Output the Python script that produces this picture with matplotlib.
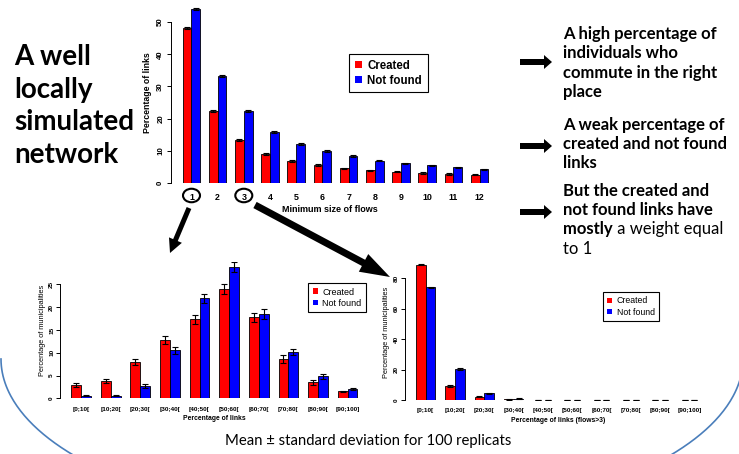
import matplotlib
matplotlib.use('Agg')
import matplotlib.pyplot as plt
from matplotlib.patches import Patch, FancyArrow, Ellipse
import numpy as np

W, H = 739, 454

# top chart: share of links by minimum flow size
flow_sizes = ['1', '2', '3', '4', '5', '6', '7', '8', '9', '10', '11', '12']
created_top = [48.0, 22.5, 13.4, 9.1, 6.8, 5.6, 4.6, 3.9, 3.5, 3.1, 2.8, 2.6]
created_top_sd = [0.3, 0.3, 0.3, 0.3, 0.2, 0.2, 0.2, 0.2, 0.2, 0.2, 0.2, 0.2]
notfound_top = [53.9, 33.3, 22.4, 15.7, 12.1, 10.0, 8.3, 6.9, 6.1, 5.5, 4.9, 4.2]
notfound_top_sd = [0.3, 0.3, 0.3, 0.3, 0.3, 0.3, 0.3, 0.2, 0.2, 0.2, 0.2, 0.2]

# bottom charts: share of municipalities by percentage of links
bins = ['[0;10[', '[10;20[', '[20;30[', '[30;40[', '[40;50[',
        '[50;60[', '[60;70[', '[70;80[', '[80;90[', '[90;100]']
created_all = [2.9, 3.8, 8.0, 12.8, 17.3, 23.9, 17.8, 8.6, 3.5, 1.5]
created_all_sd = [0.4, 0.5, 0.7, 0.8, 1.0, 1.1, 1.0, 0.8, 0.5, 0.2]
notfound_all = [0.6, 0.6, 2.7, 10.5, 21.9, 28.9, 18.5, 10.2, 4.8, 2.0]
notfound_all_sd = [0.1, 0.1, 0.4, 0.7, 1.0, 1.1, 1.0, 0.7, 0.5, 0.2]

created_gt3 = [88.7, 9.2, 2.0, 0.4, 0.2, 0.2, 0.2, 0.2, 0.2, 0.2]
created_gt3_sd = [0.5, 0.6, 0.3, 0.1, 0.0, 0.0, 0.0, 0.0, 0.0, 0.0]
notfound_gt3 = [73.9, 20.5, 4.4, 0.9, 0.3, 0.2, 0.2, 0.1, 0.1, 0.1]
notfound_gt3_sd = [0.5, 0.7, 0.3, 0.1, 0.0, 0.0, 0.0, 0.0, 0.0, 0.0]

RED = '#ff0000'
BLUE = '#0000ff'
RFONT = 'Liberation Sans'
SFONT = 'Lato'

fig = plt.figure(figsize=(W / 100, H / 100), dpi=100)
bg = fig.add_axes([0, 0, 1, 1])
bg.set_xlim(0, W)
bg.set_ylim(H, 0)
bg.axis('off')


def px_axes(left, top, right, bottom):
    return fig.add_axes([left / W, 1 - bottom / H, (right - left) / W, (bottom - top) / H])


def ptext(x, y, s, **kw):
    return bg.text(x, y, s, **kw)


def barplot(ax, labels, created, created_sd, notfound, notfound_sd,
            xlim, ylim, ymax_axis, ystep, tick_fs, ytick_fs, cap, pad):
    n = len(labels)
    x0 = np.arange(n) * 3 + 1
    ax.bar(x0, created, width=1, align='edge', color=RED, edgecolor='black', linewidth=0.6)
    ax.bar(x0 + 1, notfound, width=1, align='edge', color=BLUE, edgecolor='black', linewidth=0.6)
    ax.errorbar(x0 + 0.5, created, yerr=created_sd, fmt='none', ecolor='black',
                elinewidth=0.8, capsize=cap, capthick=0.8)
    ax.errorbar(x0 + 1.5, notfound, yerr=notfound_sd, fmt='none', ecolor='black',
                elinewidth=0.8, capsize=cap, capthick=0.8)
    ax.set_xlim(*xlim)
    ax.set_ylim(*ylim)
    ax.patch.set_alpha(0)
    for s in ['top', 'right', 'bottom']:
        ax.spines[s].set_visible(False)
    ax.spines['left'].set_bounds(0, ymax_axis)
    ax.spines['left'].set_linewidth(0.7)
    ax.set_xticks(x0 + 1)
    ax.set_xticklabels(labels, fontsize=tick_fs, fontweight='bold', family=RFONT)
    ax.set_yticks(np.arange(0, ymax_axis + 0.1, ystep))
    ax.set_yticklabels([str(int(v)) for v in np.arange(0, ymax_axis + 0.1, ystep)],
                       fontsize=ytick_fs, fontweight='bold', family=RFONT, rotation=90,
                       va='center')
    ax.tick_params(axis='x', length=0, pad=pad)
    ax.tick_params(axis='y', length=3, width=0.7, pad=1.5)


def legend(ax, x, y, fs, bold):
    handles = [Patch(facecolor=RED, edgecolor='none'), Patch(facecolor=BLUE, edgecolor='none')]
    leg = ax.legend(handles, ['Created', 'Not found'], loc='upper left',
                    bbox_to_anchor=(x / W, 1 - y / H), bbox_transform=fig.transFigure,
                    borderaxespad=0, fancybox=False, framealpha=1, edgecolor='black',
                    handlelength=0.6, handleheight=0.6, handletextpad=0.5,
                    borderpad=0.5, labelspacing=0.25,
                    prop={'family': RFONT, 'size': fs, 'weight': 'bold' if bold else 'normal'})
    leg.get_frame().set_linewidth(0.8)
    return leg


# ---- top chart ----
ax1 = px_axes(170.5, 2.7, 497, 183)
barplot(ax1, flow_sizes, created_top, created_top_sd, notfound_top, notfound_top_sd,
        (-0.4, 37), (0, 56), 50, 10, 6.4, 5.7, 2.2, 7)
legend(ax1, 349, 54, 8.3, True)
ptext(330, 209, 'Minimum size of flows', ha='center', va='center', fontsize=6.5,
      fontweight='bold', family=RFONT)
ptext(147, 93, 'Percentage of links', ha='center', va='center', rotation=90, fontsize=6.3,
      fontweight='bold', family=RFONT)

# ---- bottom-left chart ----
ax2 = px_axes(60.4, 261.5, 362.4, 398.3)
barplot(ax2, bins, created_all, created_all_sd, notfound_all, notfound_all_sd,
        (-0.1, 30.5), (0, 30), 25, 5, 4.6, 4.6, 2.2, 6.5)
legend(ax2, 308, 283, 6.5, False)
ptext(214, 419, 'Percentage of links', ha='center', va='center', fontsize=4.9,
      fontweight='bold', family=RFONT)
ptext(42, 330, 'Percentage of municipalities', ha='center', va='center', rotation=90,
      fontsize=5.3, family=RFONT)

# ---- bottom-right chart ----
ax3 = px_axes(405, 259.7, 704.2, 400)
barplot(ax3, bins, created_gt3, created_gt3_sd, notfound_gt3, notfound_gt3_sd,
        (-0.12, 30.5), (0, 92), 80, 20, 4.6, 4.6, 2.2, 5.5)
legend(ax3, 602.7, 292, 6.3, False)
ptext(558, 420, 'Percentage of links (flows>3)', ha='center', va='center', fontsize=4.9,
      fontweight='bold', family=RFONT)
ptext(387, 332, 'Percentage of municipalities', ha='center', va='center', rotation=90,
      fontsize=5.3, family=RFONT)

# ---- slide decorations ----
t = np.linspace(0, np.pi, 300)
bg.plot(372 + 371 * np.cos(t), 359 + 162 * np.sin(t), color='#4a7ebb', lw=1.2, zorder=0)

for cx in (191.5, 243.8):
    bg.add_patch(Ellipse((cx, 195.5), 17, 13.5, fill=False, lw=1.5, edgecolor='black'))

bg.add_patch(FancyArrow(189, 208, 170 - 189, 253 - 208, width=5, head_width=14,
                        head_length=14, length_includes_head=True, color='black', lw=0))
bg.add_patch(FancyArrow(255, 205, 390 - 255, 277 - 205, width=7, head_width=20,
                        head_length=30, length_includes_head=True, color='black', lw=0))
for ay in (62, 146, 212):
    bg.add_patch(FancyArrow(520, ay, 32, 0, width=6, head_width=14, head_length=8,
                            length_includes_head=True, color='black', lw=0))

for i, line in enumerate(['A well', 'locally', 'simulated', 'network']):
    ptext(14, 65 + i * 32.7, line, ha='left', va='baseline', fontsize=20,
          fontweight='bold', family=SFONT)

blocks = [
    (39.3, ['A high percentage of', 'individuals who', 'commute in the right', 'place']),
    (130, ['A weak percentage of', 'created and not found', 'links']),
    (196, ['But the created and', 'not found links have']),
]
for y0, lines in blocks:
    for i, line in enumerate(lines):
        ptext(563, y0 + i * 19.2, line, ha='left', va='baseline', fontsize=12,
              fontweight='bold', family=SFONT)

m = ptext(563, 234.4, 'mostly', ha='left', va='baseline', fontsize=12,
          fontweight='bold', family=SFONT)
fig.canvas.draw()
bb = m.get_window_extent(renderer=fig.canvas.get_renderer())
xend = bg.transData.inverted().transform((bb.x1, bb.y0))[0]
ptext(xend, 234.4, ' a weight equal', ha='left', va='baseline', fontsize=12, family=SFONT)
ptext(563, 253.6, 'to 1', ha='left', va='baseline', fontsize=12, family=SFONT)

ptext(368, 441, 'Mean \u00b1 standard deviation for 100 replicats', ha='center', va='center',
      fontsize=10.7, family=SFONT)

fig.savefig('out.png', dpi=100)
